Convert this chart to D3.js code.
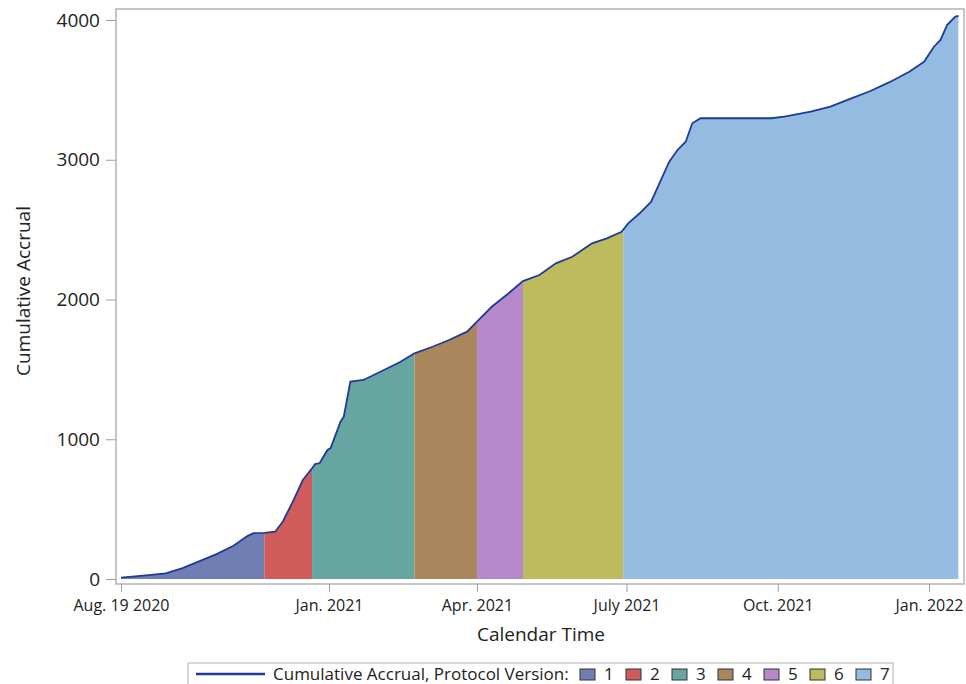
<!DOCTYPE html>
<html>
<head>
<meta charset="utf-8">
<script src="https://cdn.jsdelivr.net/npm/d3@7"></script>
<style>
  body { margin: 0; background: #fff; }
  text { font-family: "Open Sans", sans-serif; fill: #222; }
</style>
</head>
<body>
<script>
// Data
// =================================
let accrualDates = ['2020-08-19','2020-09-06','2020-09-17','2020-09-28','2020-10-09','2020-10-20',
  '2020-10-31','2020-11-09','2020-11-13','2020-11-20','2020-11-27','2020-12-02','2020-12-09',
  '2020-12-15','2020-12-21','2020-12-23','2020-12-26','2020-12-31','2021-01-02','2021-01-08',
  '2021-01-10','2021-01-14','2021-01-22','2021-02-13','2021-02-22','2021-03-05','2021-03-15',
  '2021-03-26','2021-04-01','2021-04-10','2021-04-19','2021-04-29','2021-05-09','2021-05-19',
  '2021-05-29','2021-06-10','2021-06-19','2021-06-28','2021-07-02','2021-07-09','2021-07-16',
  '2021-07-21','2021-07-27','2021-08-01','2021-08-06','2021-08-10','2021-08-15','2021-09-27',
  '2021-10-05','2021-10-21','2021-11-02','2021-11-14','2021-11-26','2021-12-08','2021-12-20',
  '2021-12-29','2022-01-04','2022-01-08','2022-01-12','2022-01-17','2022-01-19'];
let accrualValues = [10, 28, 40, 78, 128, 178,
  238, 307, 328, 330, 338, 410, 565,
  708, 792, 822, 830, 923, 937, 1126,
  1161, 1412, 1424, 1551, 1615, 1662, 1710,
  1770, 1841, 1948, 2032, 2132, 2175, 2259,
  2306, 2402, 2438, 2485, 2545, 2617, 2700,
  2831, 2986, 3070, 3129, 3261, 3297, 3297,
  3308, 3344, 3380, 3435, 3490, 3555, 3630,
  3701, 3809, 3857, 3964, 4024, 4030];

// protocol versions and the date each one starts
let versions = ['1','2','3','4','5','6','7'];
let versionStarts = ['2020-08-19','2020-11-20','2020-12-21','2021-02-22','2021-04-01','2021-04-29','2021-06-29'];
let studyEnd = '2022-01-19';
let versionColors = ['#6F7EB3','#D05B5B','#66A5A0','#A9865B','#B689CD','#BDBB5E','#94BCE0'];

let xTickDates = ['2020-08-19','2021-01-01','2021-04-01','2021-07-01','2021-10-01','2022-01-01'];
let xTickLabels = ['Aug. 19 2020','Jan. 2021','Apr. 2021','July 2021','Oct. 2021','Jan. 2022'];
let yTicks = [0, 1000, 2000, 3000, 4000];

let parse = d3.timeParse('%Y-%m-%d');
let data = accrualDates.map((d, i) => ({ date: parse(d), value: accrualValues[i] }));

// Set up the chart
//= ================================
let svgWidth = 966;
let svgHeight = 684;
let frame = { left: 116, top: 9, right: 964, bottom: 584 };

let svg = d3.select('body').append('svg')
  .attr('width', svgWidth)
  .attr('height', svgHeight);

// Scales (axis ticks in the reference are not evenly spaced in time before Jan. 2021)
let xScale = d3.scaleTime()
  .domain([parse('2020-08-19'), parse('2021-01-01'), parse('2022-01-01')])
  .range([121, 329, 929]);
let yScale = d3.scaleLinear()
  .domain([0, 4000])
  .range([579, 20]);

// Area per protocol version, clipped to its date window
let area = d3.area()
  .x(d => xScale(d.date))
  .y0(yScale(0))
  .y1(d => yScale(d.value));

let defs = svg.append('defs');
versions.forEach(function(v, i) {
  let x0 = xScale(parse(versionStarts[i]));
  let x1 = xScale(parse(i < versions.length - 1 ? versionStarts[i + 1] : studyEnd));
  defs.append('clipPath').attr('id', 'clip-v' + v)
    .append('rect')
    .attr('x', x0).attr('y', 0)
    .attr('width', x1 - x0).attr('height', svgHeight);
  svg.append('path')
    .datum(data)
    .attr('d', area)
    .attr('fill', versionColors[i])
    .attr('clip-path', 'url(#clip-v' + v + ')');
});

// cumulative line
let line = d3.line()
  .x(d => xScale(d.date))
  .y(d => yScale(d.value));
svg.append('path')
  .datum(data)
  .attr('d', line)
  .attr('fill', 'none')
  .attr('stroke', '#1f3a9a')
  .attr('stroke-width', 1.8);

// frame
svg.append('rect')
  .attr('x', frame.left).attr('y', frame.top)
  .attr('width', frame.right - frame.left)
  .attr('height', frame.bottom - frame.top)
  .attr('fill', 'none')
  .attr('stroke', '#a0a0a0')
  .attr('stroke-width', 1.2);

// Axes
let leftAxis = d3.axisLeft(yScale)
  .tickValues(yTicks)
  .tickFormat(d3.format('d'))
  .tickSize(10)
  .tickPadding(6);
let yAxisG = svg.append('g')
  .attr('transform', `translate(${frame.left}, 0)`)
  .call(leftAxis);
yAxisG.select('.domain').remove();
yAxisG.selectAll('line').attr('stroke', '#a0a0a0');
yAxisG.selectAll('text')
  .attr('font-family', 'Open Sans')
  .attr('font-size', '19px')
  .attr('fill', '#222');

let bottomAxis = d3.axisBottom(xScale)
  .tickValues(xTickDates.map(parse))
  .tickFormat((d, i) => xTickLabels[i])
  .tickSize(8)
  .tickPadding(8);
let xAxisG = svg.append('g')
  .attr('transform', `translate(0, ${frame.bottom})`)
  .call(bottomAxis);
xAxisG.select('.domain').remove();
xAxisG.selectAll('line').attr('stroke', '#a0a0a0');
xAxisG.selectAll('text')
  .attr('font-family', 'Open Sans')
  .attr('font-size', '16px')
  .attr('fill', '#222');

// axis titles
svg.append('text')
  .attr('transform', 'translate(30, 291) rotate(-90)')
  .attr('text-anchor', 'middle')
  .attr('font-size', '19px')
  .text('Cumulative Accrual');

svg.append('text')
  .attr('x', 541)
  .attr('y', 641)
  .attr('text-anchor', 'middle')
  .attr('font-size', '19px')
  .text('Calendar Time');

// Legend
let legend = svg.append('g');
legend.append('rect')
  .attr('x', 188).attr('y', 663)
  .attr('width', 705).attr('height', 30)
  .attr('fill', 'none')
  .attr('stroke', '#b0b0b0');
legend.append('line')
  .attr('x1', 196).attr('x2', 265)
  .attr('y1', 674).attr('y2', 674)
  .attr('stroke', '#1f3a9a')
  .attr('stroke-width', 2.5);
legend.append('text')
  .attr('x', 273).attr('y', 680)
  .attr('font-size', '17px')
  .text('Cumulative Accrual, Protocol Version:');

let items = legend.selectAll('g.item')
  .data(versions)
  .enter()
  .append('g')
  .attr('class', 'item')
  .attr('transform', (d, i) => `translate(${580 + i * 46}, 669)`);
items.append('rect')
  .attr('width', 15).attr('height', 11)
  .attr('fill', (d, i) => versionColors[i])
  .attr('stroke', '#333')
  .attr('stroke-width', 1);
items.append('text')
  .attr('x', 24).attr('y', 11)
  .attr('font-size', '17px')
  .text(d => d);
</script>
</body>
</html>
